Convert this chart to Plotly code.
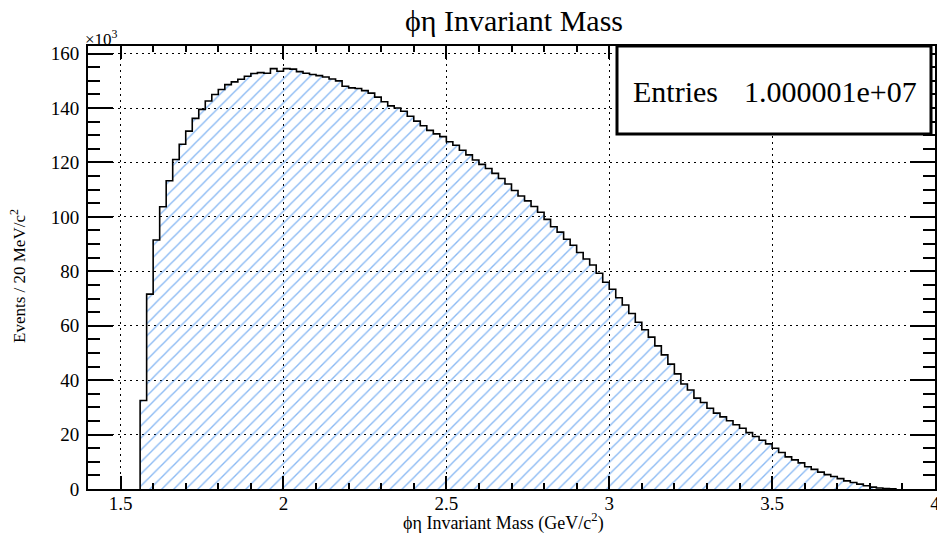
import plotly.graph_objects as go

# ---- data (thousands of events per 20 MeV bin) ----
bin_low = 1.56
bin_width = 0.02
counts_k = [
    32.5, 71.6, 91.5, 103.7, 113.3, 121.1, 126.7, 131.5, 136.2, 139.5,
    142.6, 145.0, 146.8, 148.6, 149.6, 150.6, 151.7, 152.7, 153.0, 152.8,
    154.5, 153.5, 154.5, 154.3, 153.4, 152.8, 152.3, 151.9, 151.4, 150.7,
    150.0, 148.0, 147.4, 147.2, 146.4, 145.5, 144.0, 142.3, 140.8, 140.0,
    138.8, 137.0, 135.2, 133.5, 131.8, 130.5, 129.5, 127.6, 126.3, 124.5,
    122.8, 120.9, 119.3, 117.8, 116.0, 114.1, 112.1, 109.7, 107.7, 105.9,
    103.8, 101.7, 99.1, 96.4, 94.4, 91.8, 89.6, 86.9, 84.5, 82.3,
    79.3, 76.0, 73.4, 70.3, 67.6, 64.5, 61.3, 58.5, 55.8, 52.6,
    49.3, 45.9, 42.3, 38.6, 36.4, 33.4, 31.8, 29.7, 27.9, 26.5,
    25.1, 23.6, 22.3, 20.7, 19.3, 17.9, 16.6, 15.0, 13.4, 11.8,
    10.7, 9.6, 8.2, 7.2, 6.2, 5.3, 4.6, 3.8, 3.0, 2.4,
    1.8, 1.2, 0.7, 0.35, 0.12, 0.03,
]
x_tick_vals = [1.5, 2, 2.5, 3, 3.5, 4]
x_tick_text = ["1.5", "2", "2.5", "3", "3.5", "4"]
y_tick_vals = [0, 20, 40, 60, 80, 100, 120, 140, 160]
y_tick_text = ["0", "20", "40", "60", "80", "100", "120", "140", "160"]
entries_text = "1.000001e+07"

# ---- build step outline from bin edges ----
edges = [round(bin_low + i * bin_width, 4) for i in range(len(counts_k) + 1)]
xs = [edges[0]] + edges[:-1] + [edges[-1], edges[-1]]
ys = [0] + counts_k + [counts_k[-1], 0]

FONT = "Liberation Serif, Times New Roman, serif"

fig = go.Figure()
fig.add_trace(go.Scatter(
    x=xs, y=ys, mode="lines", line_shape="hv",
    line=dict(color="black", width=1.6),
    fill="tozeroy", fillcolor="rgba(0,0,0,0)",
    fillpattern=dict(shape="/", fgcolor="#1574e8", bgcolor="rgba(0,0,0,0)",
                     size=8.5, solidity=0.16),
    hoverinfo="skip", showlegend=False,
))

grid_dash = "2px,4px"

fig.update_xaxes(
    range=[1.4, 4.0], tickvals=x_tick_vals, ticktext=x_tick_text,
    ticks="inside", ticklen=13, tickwidth=2, tickcolor="black",
    showline=True, linewidth=2, linecolor="black", mirror="ticks",
    showgrid=True, gridcolor="black", gridwidth=1, griddash=grid_dash,
    zeroline=False, automargin=False, ticklabelstandoff=-4,
    ticklabeloverflow="allow",
    minor=dict(dtick=0.1, tick0=1.4, ticks="inside", ticklen=6,
               tickwidth=2, tickcolor="black", showgrid=False),
    tickfont=dict(family=FONT, size=19, color="black"),
)
fig.update_yaxes(
    range=[0, 162.8], tickvals=y_tick_vals, ticktext=y_tick_text,
    ticks="inside", ticklen=25, tickwidth=2, tickcolor="black",
    showline=True, linewidth=2, linecolor="black", mirror="ticks",
    showgrid=True, gridcolor="black", gridwidth=1, griddash=grid_dash,
    zeroline=False, automargin=False, ticklabelstandoff=3,
    ticklabeloverflow="allow",
    minor=dict(dtick=5, tick0=0, ticks="inside", ticklen=12,
               tickwidth=2, tickcolor="black", showgrid=False),
    tickfont=dict(family=FONT, size=19, color="black"),
)

L, R, T, B = 88, 2, 46, 48
W, H = 937, 537
pw, ph = W - L - R, H - T - B

def px_x(p):
    return (p - L) / pw

def px_y(p):
    return (H - B - p) / ph

fig.update_layout(
    width=W, height=H,
    margin=dict(l=L, r=R, t=T, b=B, autoexpand=False),
    paper_bgcolor="white", plot_bgcolor="white",
    font=dict(family=FONT, color="black"),
    title=dict(text="ϕη Invariant Mass", x=514 / W, xanchor="center",
               y=1 - 20 / H, yanchor="middle",
               font=dict(family=FONT, size=30, color="black")),
    shapes=[dict(type="rect", xref="paper", yref="paper",
                 x0=px_x(617), x1=px_x(931), y0=px_y(134), y1=px_y(46),
                 line=dict(color="black", width=3), fillcolor="white",
                 layer="above")],
    annotations=[
        dict(text="Entries", xref="paper", yref="paper",
             x=px_x(631), y=px_y(91), xanchor="left", yanchor="middle",
             showarrow=False, font=dict(family=FONT, size=30, color="black")),
        dict(text=entries_text, xref="paper", yref="paper",
             x=px_x(919), y=px_y(91), xanchor="right", yanchor="middle",
             showarrow=False, font=dict(family=FONT, size=30, color="black")),
        dict(text="×10<sup>3</sup>", xref="paper", yref="paper",
             x=px_x(83), y=px_y(38), xanchor="left", yanchor="middle",
             showarrow=False, font=dict(family=FONT, size=17, color="black")),
        dict(text="ϕη Invariant Mass (GeV/c<sup>2</sup>)", xref="paper", yref="paper",
             x=px_x(503), y=px_y(522), xanchor="center", yanchor="middle",
             showarrow=False, font=dict(family=FONT, size=18, color="black")),
        dict(text="Events / 20 MeV/c<sup>2</sup>", xref="paper", yref="paper",
             x=px_x(18), y=px_y(276), xanchor="center", yanchor="middle",
             textangle=-90,
             showarrow=False, font=dict(family=FONT, size=17, color="black")),
    ],
)

fig.write_html(
    "out.html",
    config={"displayModeBar": False},
    post_script="document.body.style.margin='0px';document.body.style.overflow='hidden';",
)
